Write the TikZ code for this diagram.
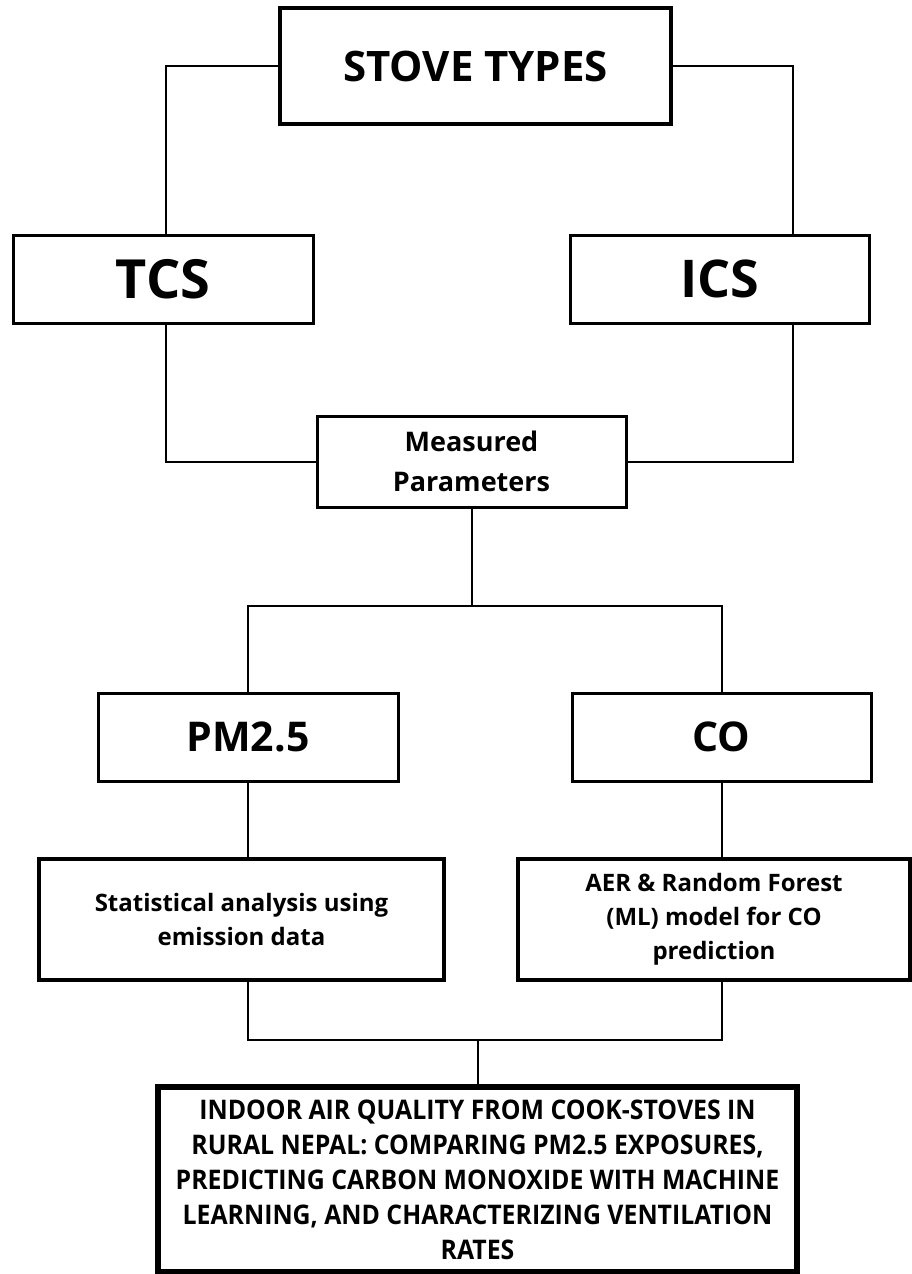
\documentclass[tikz,border=0pt]{standalone}
\usepackage{fontspec}
\setmainfont{Open Sans}
\newfontfamily\titlefont{Open Sans}[FakeStretch=0.92]
\usetikzlibrary{positioning}

\begin{document}
\begin{tikzpicture}[x=1pt,y=-1pt,
  box/.style={draw,line width=3pt,align=center,inner sep=0pt},
  heavybox/.style={box,line width=4.5pt},
  titlebox/.style={box,line width=6pt},
  link/.style={line width=2pt},
]
\useasboundingbox (0,0) rectangle (912,1274);
% top level
\node[heavybox,minimum width=391pt,minimum height=116pt,
  font=\bfseries\fontsize{42}{50}\selectfont] (stove) at (475.5,66) {STOVE TYPES};
\node[box,minimum width=300pt,minimum height=88pt,
  font=\bfseries\fontsize{54}{60}\selectfont] (tcs) at (163,279) {TCS};
\node[box,minimum width=299pt,minimum height=88pt,
  font=\bfseries\fontsize{52}{60}\selectfont] (ics) at (719.5,279) {ICS};
\node[box,minimum width=309pt,minimum height=91pt,
  font=\bfseries\fontsize{27}{40}\selectfont] (meas) at (471.5,461.5) {Measured\\Parameters};
% pollutants
\node[box,minimum width=300pt,minimum height=88pt,
  font=\bfseries\fontsize{41}{50}\selectfont] (pm) at (248,737) {PM2.5};
\node[box,minimum width=299pt,minimum height=88pt,
  font=\bfseries\fontsize{41}{50}\selectfont] (co) at (721.5,737) {CO};
\node[heavybox,minimum width=405pt,minimum height=121pt,
  font=\bfseries\fontsize{24}{34}\selectfont] (stat) at (241.5,919.5) {Statistical analysis using\\emission data};
\node[heavybox,minimum width=392pt,minimum height=121pt,
  font=\bfseries\fontsize{24}{34}\selectfont] (aer) at (714,919.5) {AER \& Random Forest\\(ML) model for CO\\prediction};
% result
\node[titlebox,minimum width=639pt,minimum height=185pt,
  font=\titlefont\bfseries\fontsize{27}{35}\selectfont] (iaq) at (477.5,1179.5)
  {INDOOR AIR QUALITY FROM COOK-STOVES IN\\RURAL NEPAL: COMPARING PM2.5 EXPOSURES,\\PREDICTING CARBON MONOXIDE WITH MACHINE\\LEARNING, AND CHARACTERIZING VENTILATION\\RATES};

% connectors
\draw[link] (stove.west) -| ([xshift=3pt]tcs.north);
\draw[link] (stove.east) -| ([xshift=73.5pt]ics.north);
\draw[link] ([xshift=3pt]tcs.south) |- (meas.west);
\draw[link] ([xshift=73.5pt]ics.south) |- (meas.east);
\coordinate (split) at (meas.south |- 0,606);
\draw[link] (meas.south) -- (split);
\draw[link] (pm.north) |- (split) -| (co.north);
\draw[link] (pm.south) -- (stat.north -| pm.south);
\draw[link] (co.south) -- (aer.north -| co.south);
\coordinate (join) at (iaq.north |- 0,1040);
\draw[link] (stat.south -| pm.south) |- (join) -| (aer.south -| co.south);
\draw[link] (join) -- (iaq.north);
\end{tikzpicture}
\end{document}
